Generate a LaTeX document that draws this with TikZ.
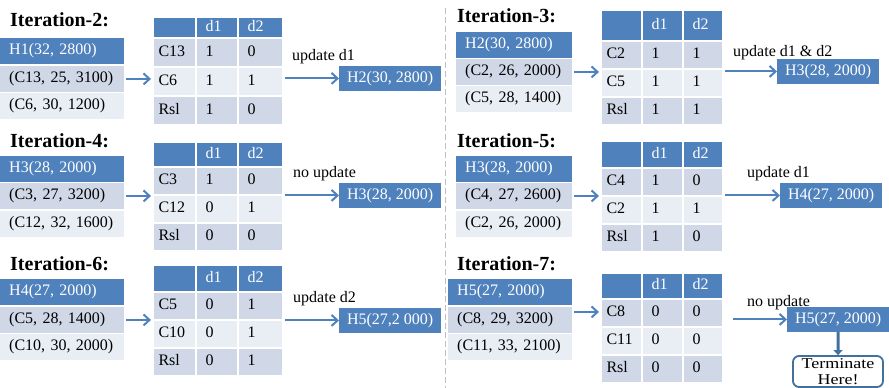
\documentclass[tikz,border=0pt]{standalone}
\usepackage{fontspec}
\setmainfont{Liberation Serif}
\newfontfamily\termfont[FakeStretch=1.2]{Liberation Serif}
\usetikzlibrary{matrix,arrows.meta,calc}
\definecolor{hblue}{HTML}{4F81BD}
\definecolor{rowD}{HTML}{D0D8E8}
\definecolor{rowL}{HTML}{E9EDF4}
\definecolor{tborder}{HTML}{41719C}
\definecolor{dashgray}{HTML}{BFBFBF}
\tikzset{
  title/.style={anchor=base west, inner sep=0pt, font=\fontsize{20}{24}\selectfont\bfseries},
  lab/.style={anchor=base west, inner sep=0pt},
  lbase/.style={anchor=north west, inner xsep=9pt, inner ysep=0pt, align=left,
    text height=11pt, text depth=3.5pt, minimum height=25.5pt},
  lhead/.style={lbase, fill=hblue, text=white},
  lrowD/.style={lbase, fill=rowD},
  lrowL/.style={lbase, fill=rowL},
  hbox/.style={anchor=north west, fill=hblue, text=white, minimum width=102pt,
    minimum height=24.5pt, inner sep=0pt},
  arr/.style={draw=hblue, line width=2pt, -{Straight Barb[length=6pt,width=11pt]}},
  darr/.style={draw=tborder, line width=3pt, -{Triangle[length=5pt,width=9pt]}},
  term/.style={draw=tborder, line width=1.8pt, rounded corners=6pt, fill=white,
    minimum width=90pt, minimum height=31pt, inner sep=0.5pt, align=center,
    font=\termfont\fontsize{15}{15.5}\selectfont},
  tcell/.style={draw=white, line width=1pt, inner ysep=0pt, align=left, fill=rowD,
    text height=11pt, text depth=3.5pt},
  tbl/.style n args={5}{matrix of nodes, nodes in empty cells, anchor=north west,
    inner sep=0pt, outer sep=0pt, column sep=0pt, row sep=0pt,
    nodes={tcell},
    row 1/.style={nodes={fill=hblue, text=white, minimum height=#1}},
    row 2/.style={nodes={minimum height=#2}},
    row 3/.style={nodes={fill=rowL, minimum height=#2}},
    row 4/.style={nodes={minimum height=#2}},
    column 1/.style={nodes={inner xsep=5pt, text width=#3}},
    column 2/.style={nodes={inner xsep=9pt, text width=#4}},
    column 3/.style={nodes={inner xsep=9pt, text width=#5}}},
  tblodd/.style 2 args={tbl={#1}{#2}{32pt}{23pt}{26pt}},
  tbleven/.style 2 args={tbl={#1}{#2}{30pt}{22pt}{21pt}},
}
\begin{document}
\begin{tikzpicture}[x=1pt, y=-1pt, font=\fontsize{16}{18}\selectfont]
\useasboundingbox (0,0) rectangle (889,388);
\draw[dashgray, line width=1pt, dash pattern=on 6pt off 3pt] (445,8) -- (445,388);

% ---------- Iteration-2
\node[title] (t2) at (10,27) {Iteration-2:};
\node[lhead, text width=106pt] (L1a) at (0,38) {H1(32, 2800)};
\node[lrowD, text width=106pt] (L1b) at (0,66) {(C13, 25, 3100)};
\node[lrowL, text width=106pt] (L1c) at (0,93) {(C6, 30, 1200)};
\matrix[tblodd={20pt}{28pt}] (T1) at (153,17) {
 & d1 & d2 \\
C13 & 1 & 0 \\
C6 & 1 & 1 \\
Rsl & 1 & 0 \\
};
\node[hbox] (B1) at (339,66) {H2(30, 2800)};
\node[lab] (u1) at (292,60) {update d1};
\draw[arr] ([xshift=2pt]L1b.east) -- ([xshift=-2pt]L1b.east -| T1.west);
\draw[arr] ([xshift=2pt]T1.east |- B1.west) -- (B1.west);

% ---------- Iteration-3
\node[title] (t3) at (457,22) {Iteration-3:};
\node[lhead, text width=98pt] (L2a) at (456,32) {H2(30, 2800)};
\node[lrowD, text width=98pt] (L2b) at (456,59) {(C2, 26, 2000)};
\node[lrowL, text width=98pt] (L2c) at (456,86) {(C5, 28, 1400)};
\matrix[tbleven={30pt}{27pt}] (T2) at (601,10) {
 & d1 & d2 \\
C2 & 1 & 1 \\
C5 & 1 & 1 \\
Rsl & 1 & 1 \\
};
\node[hbox] (B2) at (777,59) {H3(28, 2000)};
\node[lab] (u2) at (733,56) {update d1 \& d2};
\draw[arr] ([xshift=2pt]L2b.east) -- ([xshift=-2pt]L2b.east -| T2.west);
\draw[arr] ([xshift=2pt]T2.east |- B2.west) -- (B2.west);

% ---------- Iteration-4
\node[title] (t4) at (10,147) {Iteration-4:};
\node[lhead, text width=106pt] (L3a) at (0,156) {H3(28, 2000)};
\node[lrowD, text width=106pt] (L3b) at (0,183) {(C3, 27, 3200)};
\node[lrowL, text width=106pt] (L3c) at (0,211) {(C12, 32, 1600)};
\matrix[tblodd={24pt}{27pt}] (T3) at (153,142) {
 & d1 & d2 \\
C3 & 1 & 0 \\
C12 & 0 & 1 \\
Rsl & 0 & 0 \\
};
\node[hbox] (B3) at (339,183) {H3(28, 2000)};
\node[lab] (u3) at (293,177) {no update};
\draw[arr] ([xshift=2pt]L3b.east) -- ([xshift=-2pt]L3b.east -| T3.west);
\draw[arr] ([xshift=2pt]T3.east |- B3.west) -- (B3.west);

% ---------- Iteration-5
\node[title] (t5) at (457,147) {Iteration-5:};
\node[lhead, text width=98pt] (L4a) at (456,156) {H3(28, 2000)};
\node[lrowD, text width=98pt] (L4b) at (456,183) {(C4, 27, 2600)};
\node[lrowL, text width=98pt] (L4c) at (456,211) {(C2, 26, 2000)};
\matrix[tbleven={26pt}{27pt}] (T4) at (601,141) {
 & d1 & d2 \\
C4 & 1 & 0 \\
C2 & 1 & 1 \\
Rsl & 1 & 0 \\
};
\node[hbox] (B4) at (780,183) {H4(27, 2000)};
\node[lab] (u4) at (747,177) {update d1};
\draw[arr] ([xshift=2pt]L4b.east) -- ([xshift=-2pt]L4b.east -| T4.west);
\draw[arr] ([xshift=2pt]T4.east |- B4.west) -- (B4.west);

% ---------- Iteration-6
\node[title] (t6) at (10,270) {Iteration-6:};
\node[lhead, text width=106pt] (L5a) at (0,279) {H4(27, 2000)};
\node[lrowD, text width=106pt] (L5b) at (0,307) {(C5, 28, 1400)};
\node[lrowL, text width=106pt] (L5c) at (0,334) {(C10, 30, 2000)};
\matrix[tblodd={26pt}{27pt}] (T5) at (153,265) {
 & d1 & d2 \\
C5 & 0 & 1 \\
C10 & 0 & 1 \\
Rsl & 0 & 1 \\
};
\node[hbox] (B5) at (339,308) {H5(27,2 000)};
\node[lab] (u5) at (293,302) {update d2};
\draw[arr] ([xshift=2pt]L5b.east) -- ([xshift=-2pt]L5b.east -| T5.west);
\draw[arr] ([xshift=2pt]T5.east |- B5.west) -- (B5.west);

% ---------- Iteration-7
\node[title] (t7) at (457,270) {Iteration-7:};
\node[lhead, text width=106pt] (L6a) at (448,279) {H5(27, 2000)};
\node[lrowD, text width=106pt] (L6b) at (448,307) {(C8, 29, 3200)};
\node[lrowL, text width=106pt] (L6c) at (448,334) {(C11, 33, 2100)};
\matrix[tbleven={25pt}{27pt}] (T6) at (601,273) {
 & d1 & d2 \\
C8 & 0 & 0 \\
C11 & 0 & 0 \\
Rsl & 0 & 0 \\
};
\node[hbox] (B6) at (787,307) {H5(27, 2000)};
\node[lab] (u6) at (747,306) {no update};
\draw[arr] ([xshift=2pt,yshift=8pt]L6b.east) -- ([xshift=-2pt,yshift=8pt]L6b.east -| T6.west);
\draw[arr] ([xshift=10pt]T6.east |- B6.west) -- (B6.west);
\node[term] (term) at (838,371.5) {Terminate\\Here!};
\draw[darr] (B6.south) -- (term.north);
\end{tikzpicture}
\end{document}
